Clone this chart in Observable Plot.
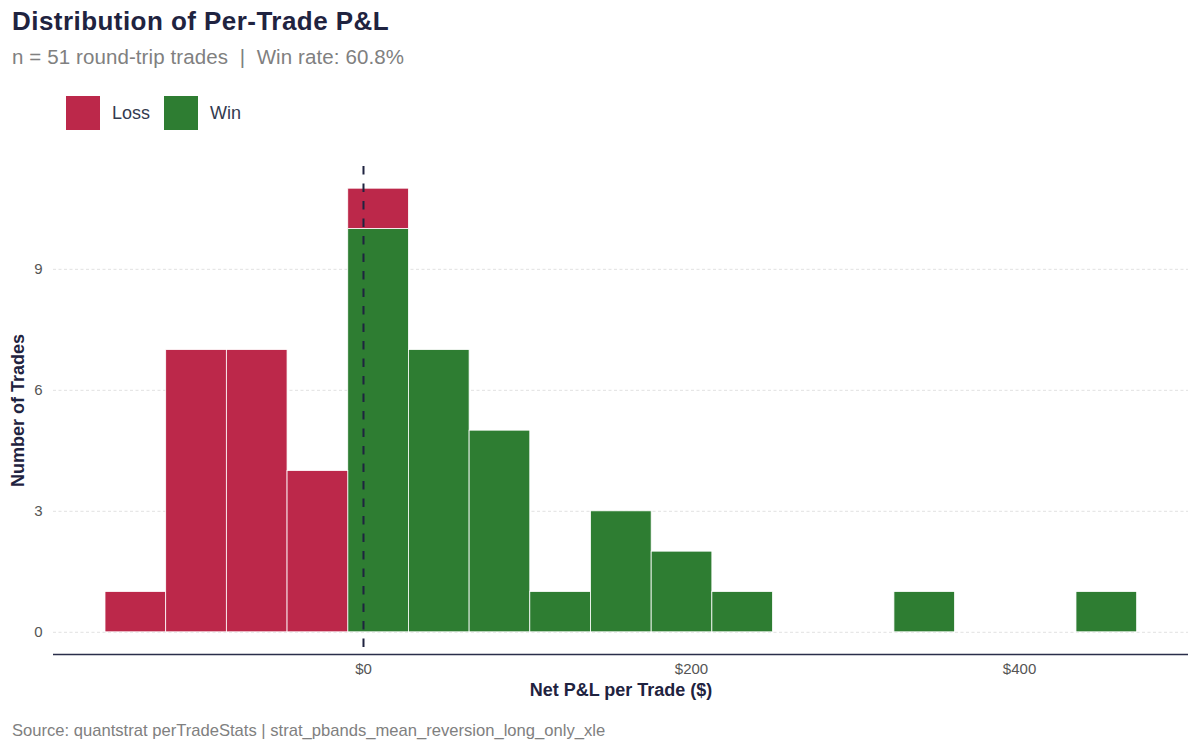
<!DOCTYPE html>
<html>
<head>
<meta charset="utf-8">
<script src="https://cdn.jsdelivr.net/npm/d3@7"></script>
<script src="https://cdn.jsdelivr.net/npm/@observablehq/plot@0.6"></script>
<style>
  body { margin: 0; background: #fff; font-family: "Liberation Sans", Arial, sans-serif; }
  #wrap { position: relative; width: 1200px; height: 750px; }
  #title { position: absolute; left: 12px; top: 7px; font-size: 26px; letter-spacing: 0.45px; line-height: 1.15; font-weight: 700; color: #1f2340; white-space: nowrap; }
  #subtitle { position: absolute; left: 12px; top: 45px; font-size: 20.5px; letter-spacing: 0.1px; line-height: 1.15; color: #808080; white-space: pre; }
  #legend { position: absolute; left: 66px; top: 96px; height: 34px; }
  .sw { position: absolute; top: 0; width: 34px; height: 34px; }
  .lab { position: absolute; font-size: 18px; line-height: 1.15; color: #333a4f; }
  #chart { position: absolute; left: 0; top: 140px; }
  #caption { position: absolute; left: 12px; top: 721px; font-size: 16.6px; line-height: 1.15; color: #808080; white-space: nowrap; }
</style>
</head>
<body>
<div id="wrap">
  <div id="title">Distribution of Per-Trade P&amp;L</div>
  <div id="subtitle">n = 51 round-trip trades  |  Win rate: 60.8%</div>
  <div id="legend"></div>
  <div id="chart"></div>
  <div id="caption">Source: quantstrat perTradeStats | strat_pbands_mean_reversion_long_only_xle</div>
</div>
<script>
const binStarts = [-157.3, -120.3, -83.3, -46.3, -9.3, 27.7, 64.7, 101.7, 138.7, 175.7, 212.7, 249.7, 286.7, 323.7, 360.7, 397.7, 434.7];
const binWidth = 37;
const lossCounts = [1, 7, 7, 4, 1, 0, 0, 0, 0, 0, 0, 0, 0, 0, 0, 0, 0];
const winCounts  = [0, 0, 0, 0, 10, 7, 5, 1, 3, 2, 1, 0, 0, 1, 0, 0, 1];
const outcomes = ["Loss", "Win"];
const colors = ["#bc284a", "#2e7d32"];
const yTicks = [0, 3, 6, 9];
const xTicks = [0, 200, 400];

const rows = [];
binStarts.forEach((s, i) => { if (winCounts[i] > 0) rows.push({x1: s, x2: s + binWidth, n: winCounts[i], outcome: "Win"}); });
binStarts.forEach((s, i) => { if (lossCounts[i] > 0) rows.push({x1: s, x2: s + binWidth, n: lossCounts[i], outcome: "Loss"}); });

const legend = document.getElementById("legend");
const legendX = [0, 98];
outcomes.forEach((o, i) => {
  const sw = document.createElement("div"); sw.className = "sw"; sw.style.background = colors[i]; sw.style.left = legendX[i] + "px";
  const lab = document.createElement("div"); lab.className = "lab"; lab.textContent = o;
  lab.style.left = (legendX[i] + 46) + "px"; lab.style.top = "7px";
  legend.appendChild(sw); legend.appendChild(lab);
});

const chart = Plot.plot({
  width: 1200,
  height: 580,
  marginLeft: 53,
  marginRight: 12,
  marginTop: 26,
  marginBottom: 66,
  style: { fontFamily: "'Liberation Sans', Arial, sans-serif", fontSize: "15px", color: "#555" },
  x: { domain: [-189, 503], ticks: xTicks, tickFormat: d => "$" + d, tickSize: 0, tickPadding: 9, label: null },
  y: { domain: [-0.55, 11.55], ticks: yTicks, tickSize: 0, tickPadding: 11, label: null },
  color: { domain: outcomes, range: colors },
  marks: [
    Plot.ruleY(yTicks, { stroke: "#d9d9d9", strokeDasharray: "3,2.5", strokeWidth: 0.8 }),
    Plot.rectY(rows, { x1: "x1", x2: "x2", y: "n", fill: "outcome", stroke: "white", strokeWidth: 0.8 }),
    Plot.ruleX([0], { stroke: "#1f2340", strokeWidth: 2, strokeDasharray: "8.5,9" }),
    Plot.ruleY([-0.55], { stroke: "#2a2e4a", strokeWidth: 1.5 }),
    Plot.axisX(xTicks, { tickSize: 0, tickPadding: 9, tickFormat: d => "$" + d, fill: "#555", fontSize: 15, label: null }),
    Plot.axisY(yTicks, { tickSize: 0, tickPadding: 11, fill: "#555", fontSize: 15, label: null }),
    Plot.text(["Net P&L per Trade ($)"], { frameAnchor: "bottom", textAnchor: "middle", dy: 41, fontWeight: "bold", fontSize: 18, fill: "#1f2340" }),
    Plot.text(["Number of Trades"], { frameAnchor: "left", textAnchor: "middle", dx: -35, rotate: -90, fontWeight: "bold", fontSize: 18, fill: "#1f2340" })
  ]
});
document.getElementById("chart").appendChild(chart);
</script>
</body>
</html>
